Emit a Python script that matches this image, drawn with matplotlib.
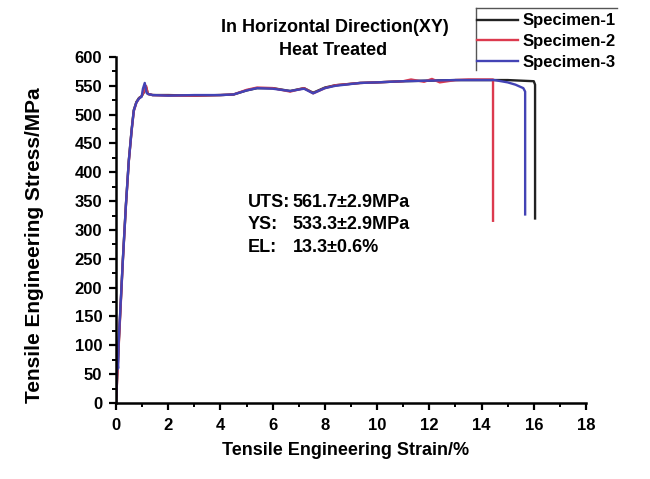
import matplotlib.pyplot as plt
from matplotlib.lines import Line2D
from matplotlib.ticker import MultipleLocator

plt.rcParams["font.family"] = ["Liberation Sans", "DejaVu Sans"]
plt.rcParams["font.weight"] = "bold"

# Specimen-1 (black)
strain_1 = [0, 0.1, 0.26, 0.38, 0.49, 0.6, 0.68, 0.78, 0.88, 0.98, 1.08, 1.15,
            1.22, 1.4, 2, 3, 4, 4.5, 5, 5.4, 6, 6.67, 7.2, 7.55, 8, 8.4, 9.35, 10,
            11, 12, 13, 14, 15, 15.5, 16.0, 16.05, 16.05]
stress_1 = [0, 100, 248, 345, 421, 475, 508, 522, 529, 532, 540, 548,
            536, 534, 534, 533, 534, 535, 542, 546, 546, 541, 546, 538, 547, 551, 555, 556,
            558, 559, 560, 560, 560, 559, 558, 552, 320]

# Specimen-2 (red)
strain_2 = [0, 0.1, 0.26, 0.38, 0.49, 0.6, 0.68, 0.78, 0.88, 0.98, 1.08, 1.15,
            1.22, 1.4, 2, 3, 4, 4.5, 5, 5.4, 6, 6.67, 7.2, 7.55, 8, 8.4, 9.35, 10,
            11, 11.3, 11.8, 12.1, 12.4, 13, 13.5, 14, 14.44, 14.44]
stress_2 = [0, 96, 245, 343, 419, 473, 506, 521, 528, 532, 541, 550,
            536, 534, 533, 533, 534, 535, 543, 547, 546, 540, 546, 537, 546, 551, 555, 556,
            558, 561, 557, 562, 556, 560, 561, 561, 561, 316]

# Specimen-3 (blue)
strain_3 = [0, 0.05, 0.08, 0.1, 0.26, 0.38, 0.49, 0.6, 0.68, 0.78, 0.88, 0.98, 1.03,
            1.1, 1.17, 1.22, 1.4, 2, 3, 4, 4.5, 5, 5.4, 6, 6.67, 7.2, 7.55, 8, 8.4,
            9.35, 10, 11, 12, 13, 14, 14.5, 15.0, 15.3, 15.6, 15.67, 15.67]
stress_3 = [0, 75, 60, 105, 246, 344, 420, 474, 507, 521, 528, 531, 545,
            555, 538, 536, 534, 533, 534, 534, 535, 542, 546, 545, 541, 545, 537, 546, 550,
            555, 556, 558, 559, 560, 560, 560, 556, 552, 546, 540, 327]

labels = ["Specimen-1", "Specimen-2", "Specimen-3"]
colors = ["#222222", "#dc3a4e", "#4343b5"]

fig = plt.figure(figsize=(6.5, 4.79), dpi=100)
ax = fig.add_axes([0.1785, 0.1587, 0.723, 0.7223])

ax.plot(strain_1, stress_1, color=colors[0], linewidth=1.7, label=labels[0])
ax.plot(strain_2, stress_2, color=colors[1], linewidth=1.7, label=labels[1])
ax.plot(strain_3, stress_3, color=colors[2], linewidth=1.7, label=labels[2])

ax.set_xlim(0, 18)
ax.set_ylim(0, 600)
ax.xaxis.set_major_locator(MultipleLocator(2))
ax.xaxis.set_minor_locator(MultipleLocator(1))
ax.yaxis.set_major_locator(MultipleLocator(50))
ax.yaxis.set_minor_locator(MultipleLocator(25))

ax.spines["top"].set_visible(False)
ax.spines["right"].set_visible(False)
ax.spines["left"].set_linewidth(1.8)
ax.spines["bottom"].set_linewidth(1.8)
ax.tick_params(which="major", direction="out", length=5, width=1.6, labelsize=12)
ax.tick_params(axis="x", which="major", pad=6)
ax.tick_params(axis="y", which="major", pad=5)
ax.tick_params(which="minor", direction="out", length=3, width=1.4)

ax.set_xlabel("Tensile Engineering Strain/%", fontsize=13, fontweight="bold")
ax.set_ylabel("Tensile Engineering Stress/MPa", fontsize=15, fontweight="bold")
ax.xaxis.set_label_coords(0.489, -0.113)
ax.yaxis.set_label_coords(-0.153, 0.457)

fig.text(0.515, 0.9436, "In Horizontal Direction(XY)", ha="center", va="center",
         fontsize=13, fontweight="bold")
fig.text(0.512, 0.8956, "Heat Treated", ha="center", va="center",
         fontsize=13, fontweight="bold")

ax.text(5.05, 347, "UTS:", fontsize=13, fontweight="bold", va="center")
ax.text(6.77, 347, "561.7\u00b12.9MPa", fontsize=13, fontweight="bold", va="center")
ax.text(5.05, 309, "YS:", fontsize=13, fontweight="bold", va="center")
ax.text(6.77, 309, "533.3\u00b12.9MPa", fontsize=13, fontweight="bold", va="center")
ax.text(5.05, 270, "EL:", fontsize=13, fontweight="bold", va="center")
ax.text(6.77, 270, "13.3\u00b10.6%", fontsize=13, fontweight="bold", va="center")

leg = fig.legend(loc="upper left", bbox_to_anchor=(0.734, 0.972), frameon=False,
                 fontsize=12, handlelength=2.45, handletextpad=0.3, labelspacing=0.34,
                 borderaxespad=0, borderpad=0)
for txt in leg.get_texts():
    txt.set_fontweight("bold")

fig.add_artist(Line2D([0.732, 0.949], [0.983, 0.983], color="#555555", linewidth=1.0))
fig.add_artist(Line2D([0.732, 0.732], [0.983, 0.854], color="#555555", linewidth=1.0))

fig.savefig("out.png", dpi=100)
